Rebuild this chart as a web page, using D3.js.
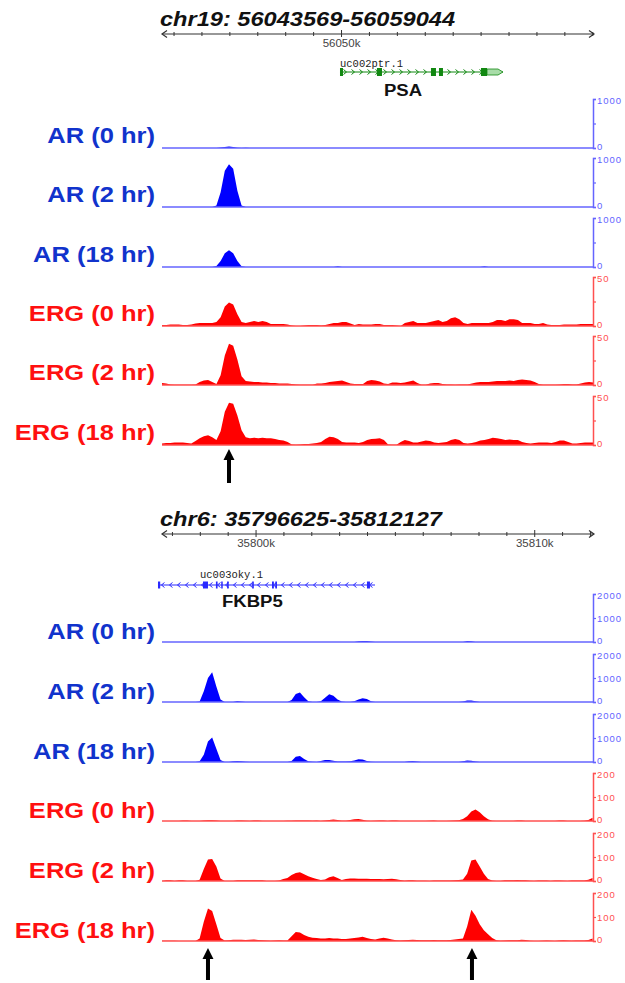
<!DOCTYPE html>
<html>
<head>
<meta charset="utf-8">
<script src="https://cdn.jsdelivr.net/npm/d3@7"></script>
<style>
  body { margin: 0; background: #fff; }
  svg { display: block; }
</style>
</head>
<body>
<div id="chart"></div>
<script>
// ---- data ----
const binSize = 150;

const trackLabels = ["AR (0 hr)", "AR (2 hr)", "AR (18 hr)", "ERG (0 hr)", "ERG (2 hr)", "ERG (18 hr)"];

// PSA locus
const psaRegion = ["chr19", 56043569, 56059044];
const psaGene = ["uc002ptr.1", "PSA", "+", 56049945, 56055784];
const psaExons = [[56049945, 56050052], [56051270, 56051449], [56053204, 56053383], [56053491, 56053634], [56054996, 56055211]];
const psaUtr = [56055211, 56055784];
const psaScaleMax = [1000, 1000, 1000, 50, 50, 50];
const psaArrows = [56045969];

const psaAR0 = [
  0,0,0,0,0,0,0,0,0,0,0,0,0,0,10,20,30,20,5,0,5,0,0,0,0,0,
  0,0,0,0,0,0,0,0,0,0,0,0,0,0,0,0,0,0,0,0,0,0,0,0,0,0,
  0,0,0,0,0,0,0,0,0,0,0,0,0,0,0,0,0,0,0,0,0,0,0,0,0,0,
  0,0,0,0,0,0,0,0,0,0,0,0,0,0,0,0,0,0,0,0,0,0,0,0,0,0];
const psaAR2 = [
  0,0,0,0,0,0,0,0,0,0,0,0,0,30,300,740,870,780,330,30,0,0,0,0,0,0,
  0,0,0,0,0,0,0,0,0,0,0,0,0,0,0,0,0,0,0,0,0,0,0,0,0,0,
  0,0,0,0,0,0,0,0,0,0,0,0,0,0,0,0,0,0,0,0,0,0,0,0,0,0,
  0,0,0,0,0,0,0,0,0,0,0,0,0,0,0,0,0,0,0,0,0,0,0,0,0,0];
const psaAR18 = [
  0,0,0,0,0,0,0,0,0,0,0,0,0,20,120,280,340,280,120,15,0,0,0,0,0,0,
  0,0,0,0,0,0,0,0,0,0,0,0,0,0,0,0,15,0,0,0,0,0,0,0,0,0,
  0,0,0,0,0,0,0,0,0,0,0,0,0,0,0,0,0,0,0,0,0,0,0,0,0,15,
  0,0,0,0,0,0,0,0,0,0,0,0,0,0,0,0,0,0,0,0,0,0,0,0,0,0];
const psaERG0 = [
  1,1,1.5,1.5,1.5,1,1,1.5,2.5,3,3,3,3,4,9,20,24,22,12,4,3,4,5,4,5,4,
  2,2,2,2,1.5,0.5,0,0,0.5,1,1,1,0.5,1,2,3,3,4,4,2.5,1,2,1.5,1.5,1.5,2,
  2,1,1,1,0.5,0,3,4,5,3,3,3,4,5,6,4,5,8,9,7,3,2,3,3,3,3,
  3,4,6,6,5,7,7,6,3,3,3,2,2,3,1.5,1,1,1,1.5,1.5,1.5,1.5,2,2,2,2];
const psaERG2 = [
  2,1.5,0.5,0.3,0.3,0.3,0.3,0.3,0.5,3,4.5,5,3,1,10,30,42,40,26,9,4,3.5,3,3,2.5,2.5,
  2,2,1.5,1.5,1.5,1,0.5,0.2,0.2,0.2,0.2,1.5,1.5,2,3,3.5,4,4.5,3,1.5,1,1,1,4,5,4.5,
  3.5,1.5,1,2.5,2.5,2,2.5,3.5,4.5,2,0.3,0.3,1.5,2,2,1,0.5,0.5,0.3,0.5,0.5,0.5,1.5,2.5,3,3,
  3,3.5,4,4,4,4.5,4,5,5.5,5,4.5,3,1,0.2,0.2,0.2,0.2,0.5,1,1,0.5,0.5,1.5,2.5,3,2.5];
const psaERG18 = [
  1.5,2,2,2.5,2.5,2.5,2,1.5,4,7,9,10,8,5,14,34,43,42,30,15,8,7,7.5,7,7.5,7,
  7,6,5,4.5,3,0.5,0.3,0.5,1,1,1.5,2,3,6,8.5,8,6,3,2.5,2.5,2.5,2,3,5,6,6.5,
  7,5,0.5,0.3,0.3,3,5,4,2.5,2.5,3.5,4.5,4,2.5,2,2.5,3,5,6,5,2,1.5,2,3,4.5,5,
  6,7.5,7,6,5,5.5,5,5,3,2,1.5,2,2.5,2.5,2.5,2,3,4.5,4.5,3,1.5,1.5,2,2.5,2.5,2.5];

// FKBP5 locus
const fkbpRegion = ["chr6", 35796625, 35812127];
const fkbpGene = ["uc003oky.1", "FKBP5", "-", 35796481, 35804268];
const fkbpExons = [[35796481, 35796560], [35798096, 35798275], [35798560, 35798620], [35798750, 35798800],
  [35798960, 35799020], [35799860, 35799920], [35800572, 35800640], [35800690, 35800751], [35803980, 35804088]];
const fkbpScaleMax = [2000, 2000, 2000, 200, 200, 200];
const fkbpArrows = [35798275, 35807748];

const fkbpAR0 = [
  0,0,0,0,0,0,0,0,0,0,0,0,0,0,0,0,0,0,0,0,0,0,0,0,0,0,
  0,0,0,0,0,0,0,0,0,0,0,0,0,0,0,0,0,0,0,0,0,30,40,40,20,0,
  0,0,0,0,0,0,0,0,0,0,0,0,0,0,0,0,0,0,0,0,0,40,30,0,0,0,
  0,0,0,0,0,0,0,0,0,0,0,0,0,0,0,0,0,0,0,0,0,0,0,0,0,0];
const fkbpAR2 = [
  0,0,0,0,0,0,0,0,0,20,450,1000,1240,650,100,0,0,0,40,20,0,0,0,0,0,0,
  0,0,0,0,0,80,330,400,200,30,0,0,30,180,320,260,100,20,0,0,30,100,160,120,30,0,
  0,0,0,0,0,0,0,0,0,0,0,0,0,0,0,0,0,0,0,0,20,60,60,30,0,0,
  0,0,0,0,0,0,0,0,0,0,0,0,0,0,0,0,0,0,0,0,0,0,0,0,0,0];
const fkbpAR18 = [
  0,0,0,0,0,0,0,0,0,30,300,850,1020,550,80,0,0,30,40,30,10,0,0,0,0,0,
  0,0,0,0,0,40,220,245,120,30,10,0,40,80,80,50,20,20,20,30,60,110,100,40,10,0,
  0,0,0,0,0,0,0,30,40,20,0,0,0,0,0,0,0,0,0,0,30,60,50,20,0,0,
  0,0,0,0,0,0,0,0,0,0,0,0,0,0,0,0,0,0,0,0,0,0,0,0,0,0];
const fkbpERG0 = [
  0.5,0.5,0.5,0.5,0.5,2,2,0.5,0.5,0.5,2,3,3,2,0.5,0.5,0.5,0.5,2.5,2.5,1,0.5,2,2.5,0.5,0.5,
  0.5,0.5,0.5,0.5,1,1,2,2.5,2.5,2.5,1,2,0.5,2,4,6,4,1,1,4,7,8,5,1,0.5,1,
  2.5,2.5,0.5,2,2,0.5,0.5,0.5,0.5,0.5,0.5,0.5,1,2,0.5,0.5,0.5,1.5,2,3,8,20,40,48,36,20,
  7,1.5,0.5,0.5,0.5,0.5,0.5,2.5,2,0.5,0.5,0.5,0.5,0.5,0.5,0.5,0.5,2,2,0.5,0.5,0.5,0.5,1,4,14];
const fkbpERG2 = [
  0.5,3,3,0.5,3,3,0.5,0.5,0.5,5,50,90,92,60,10,0.5,0.5,0.5,3,3,3,3,3,3,3,0.5,
  0.5,0.5,2,8,12,25,33,36,28,20,14,8,4,6,16,20,12,4,8,10,10,9,9,9,8,8,
  8,7,8,9,7,4,1,3,3,1,1.5,1,0.5,2,2,2,2.5,2,3,4,6,30,85,90,60,30,
  8,2,0.5,0.5,3,3,3.5,4,3,3,1,0.5,2,2.5,2,0.5,2,2.5,1,0.5,2,2.5,2,2.5,5,12];
const fkbpERG18 = [
  1,1,1,1,0.5,0.5,0.5,0.5,0.5,10,80,135,125,70,12,2,3,5,5,5,4,5,6,4,3,2,
  1,2,3,2,2,20,38,35,25,18,14,12,10,10,12,10,10,8,8,10,12,15,18,12,8,6,
  10,14,10,6,3,2,3,4,5,4,3,3,3,4,3,3,3,4,6,8,10,60,130,105,70,45,
  28,12,3,1,2,3,3,3,5,4,1,0.5,0.5,1,2,1,0.5,2,3,2,1,2,2,2,4,10];

// ---- layout ----
const width = 625, height = 983;
const xLeft = 162, xRight = 593;
const arColor = "#0000ff", ergColor = "#ff0000";
const arAxis = "#6464ff", ergAxis = "#ff5050";
const arLabel = "#1133cc", ergLabel = "#ff1010";
const sansFont = "Liberation Sans, Arial, sans-serif";

const svg = d3.select("#chart").append("svg")
  .attr("width", width)
  .attr("height", height);

function stretchText(parent, str, x, y, o) {
  return parent.append("text")
    .attr("transform", `translate(${x},${y}) scale(${o.sx || 1},1)`)
    .attr("text-anchor", o.anchor || "start")
    .attr("font-family", o.family || sansFont)
    .attr("font-size", o.size)
    .attr("font-weight", o.weight || "normal")
    .attr("font-style", o.style || "normal")
    .attr("fill", o.fill || "#000")
    .text(str);
}

function drawPanel(p) {
  const g = svg.append("g");
  const [chrom, start, end] = p.region;
  const x = d3.scaleLinear().domain([start, end]).range([xLeft, xRight + 1]);

  // title
  stretchText(g, `${chrom}: ${start}-${end}`, 160, p.titleY,
    { size: 20, weight: "bold", style: "italic", sx: 1.18, fill: "#111" });

  // ruler
  const ry = p.rulerY;
  g.append("line").attr("x1", x(start)).attr("x2", x(end)).attr("y1", ry).attr("y2", ry)
    .attr("stroke", "#333").attr("stroke-width", 1.2);
  g.append("path").attr("d", `M${x(start) + 5},${ry - 3.5}L${x(start)},${ry}L${x(start) + 5},${ry + 3.5}`)
    .attr("fill", "none").attr("stroke", "#333").attr("stroke-width", 1.2);
  g.append("path").attr("d", `M${x(end) - 5},${ry - 3.5}L${x(end)},${ry}L${x(end) - 5},${ry + 3.5}`)
    .attr("fill", "none").attr("stroke", "#333").attr("stroke-width", 1.2);
  const kb = d3.range(Math.ceil(start / 1000) * 1000, end, 1000);
  g.selectAll(".rtick").data(kb).join("line")
    .attr("x1", d => x(d)).attr("x2", d => x(d))
    .attr("y1", d => d % 10000 === 0 ? ry - 4 : ry - 2)
    .attr("y2", d => d % 10000 === 0 ? ry + 3 : ry + 2)
    .attr("stroke", "#333");
  kb.filter(d => d % 10000 === 0).forEach(d => {
    stretchText(g, `${d / 1000}k`, x(d), ry + 13, { size: 10, anchor: "middle", sx: 1.15, fill: "#444" });
  });

  // gene model
  const [gid, gname, strand, txStart, txEnd] = p.gene;
  const gy = p.geneY;
  const gc = p.geneColor;
  g.append("line").attr("x1", x(txStart)).attr("x2", x(txEnd)).attr("y1", gy).attr("y2", gy)
    .attr("stroke", gc).attr("stroke-width", 1);
  const chev = d3.range(x(txStart) + 5, x(txEnd) - 3, 8);
  g.selectAll(".chev").data(chev).join("path")
    .attr("d", d => strand === "+" ? `M${d - 1.5},${gy - 2.5}L${d + 1.5},${gy}L${d - 1.5},${gy + 2.5}`
                                   : `M${d + 1.5},${gy - 2.5}L${d - 1.5},${gy}L${d + 1.5},${gy + 2.5}`)
    .attr("fill", "none").attr("stroke", gc).attr("stroke-width", 1);
  g.selectAll(".exon").data(p.exons).join("rect")
    .attr("x", d => x(d[0])).attr("width", d => Math.max(1.5, x(d[1]) - x(d[0])))
    .attr("y", gy - p.exonH / 2).attr("height", p.exonH)
    .attr("fill", gc);
  if (p.utr) {
    const u0 = x(p.utr[0]), u1 = x(p.utr[1]);
    g.append("path")
      .attr("d", `M${u0},${gy - 3}L${u1 - 5},${gy - 3}L${u1},${gy}L${u1 - 5},${gy + 3}L${u0},${gy + 3}Z`)
      .attr("fill", "#a8dca8").attr("stroke", gc).attr("stroke-width", 0.8);
  }
  g.append("text").attr("x", p.gidX).attr("y", p.gidY)
    .attr("font-family", "Liberation Mono, Courier New, monospace").attr("font-size", 10.5)
    .attr("fill", "#222").text(gid);
  stretchText(g, gname, p.gnameX, p.gnameY,
    { size: 16, weight: "bold", sx: 1.16, anchor: p.gnameAnchor, fill: "#111" });

  // signal tracks
  p.series.forEach((vals, k) => {
    const isAR = k < 3;
    const base = p.baselines[k];
    const max = p.maxes[k];
    const fill = isAR ? arColor : ergColor;
    const ac = isAR ? arAxis : ergAxis;
    const y = d3.scaleLinear().domain([0, max]).range([base, base - p.trackH]);

    const area = d3.area()
      .x((d, i) => x(start + i * binSize))
      .y0(y(0))
      .y1(d => y(d))
      .curve(d3.curveLinear);
    g.append("path").datum(vals).attr("d", area).attr("fill", fill);

    g.append("line").attr("x1", xLeft).attr("x2", xRight).attr("y1", base).attr("y2", base)
      .attr("stroke", ac).attr("stroke-width", 1.5);

    const axis = d3.axisRight(y)
      .tickValues([0, max / 2, max])
      .tickSize(3)
      .tickPadding(1)
      .tickFormat(d => (d === max / 2 && !p.showMid) ? "" : d);
    const ag = g.append("g").attr("transform", `translate(${xRight},0)`).call(axis)
      .attr("font-family", sansFont).attr("font-size", 9.5);
    ag.select(".domain").attr("stroke", ac).attr("stroke-width", 1.5);
    ag.selectAll(".tick line").attr("stroke", ac).attr("stroke-width", 1.2);
    ag.selectAll(".tick text").attr("fill", ac).attr("letter-spacing", 1)
      .attr("dy", d => d === 0 ? "0.2em" : d === max ? "0.5em" : "0.32em");

    stretchText(g, trackLabels[k], 155, base + p.labelDy,
      { size: 22, weight: "bold", anchor: "end", sx: 1.16, fill: isAR ? arLabel : ergLabel });
  });

  // arrows under peaks
  p.arrows.forEach(pos => {
    const ax = x(pos), t = p.arrowTop, b = p.arrowBottom;
    g.append("path")
      .attr("d", `M${ax},${t}L${ax + 5.5},${t + 11}L${ax + 2},${t + 11}L${ax + 2},${b}` +
                 `L${ax - 2},${b}L${ax - 2},${t + 11}L${ax - 5.5},${t + 11}Z`)
      .attr("fill", "#000");
  });
}

drawPanel({
  region: psaRegion, gene: psaGene, exons: psaExons, utr: psaUtr,
  geneColor: "#118811", exonH: 8,
  titleY: 26, rulerY: 34, geneY: 72, gidX: 340, gidY: 67,
  gnameX: 403, gnameY: 96, gnameAnchor: "middle",
  series: [psaAR0, psaAR2, psaAR18, psaERG0, psaERG2, psaERG18],
  maxes: psaScaleMax, showMid: false,
  baselines: [148, 207, 267, 326, 385, 445], trackH: 49, labelDy: -5,
  arrows: psaArrows, arrowTop: 449, arrowBottom: 483
});

drawPanel({
  region: fkbpRegion, gene: fkbpGene, exons: fkbpExons, utr: null,
  geneColor: "#2a2aff", exonH: 7,
  titleY: 526, rulerY: 534, geneY: 585, gidX: 200, gidY: 578,
  gnameX: 222, gnameY: 607, gnameAnchor: "start",
  series: [fkbpAR0, fkbpAR2, fkbpAR18, fkbpERG0, fkbpERG2, fkbpERG18],
  maxes: fkbpScaleMax, showMid: true,
  baselines: [642, 702, 762, 821, 881, 941], trackH: 48, labelDy: -3,
  arrows: fkbpArrows, arrowTop: 948, arrowBottom: 980
});
</script>
</body>
</html>
